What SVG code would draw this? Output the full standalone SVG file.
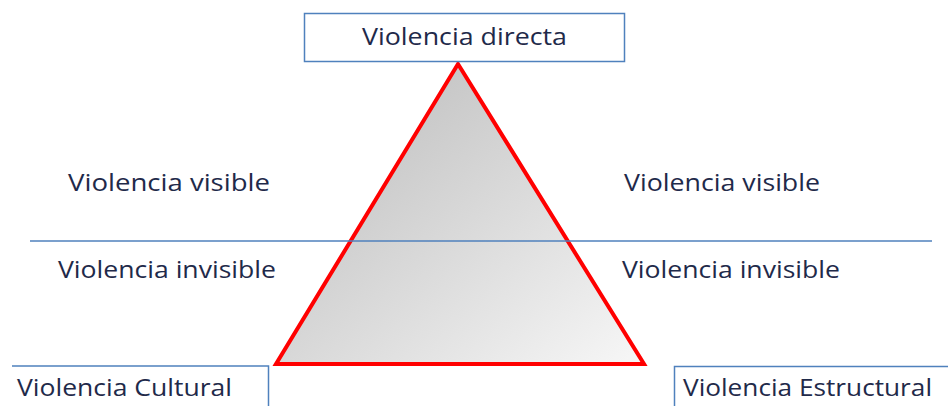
<svg xmlns="http://www.w3.org/2000/svg" width="948" height="406" viewBox="0 0 948 406">
<style>
.box{fill:#fff;stroke:#4f81bd;stroke-width:1.5}
.t{font-family:"Open Sans","Liberation Sans",sans-serif;font-size:24px;fill:#1f2a4a}
.sep{stroke:#4f81bd;stroke-width:1.5}
</style>
<defs>
<linearGradient id="g" x1="0" y1="0" x2="1" y2="1">
<stop offset="0" stop-color="#b8b8b8"/>
<stop offset="1" stop-color="#f7f7f7"/>
</linearGradient>
</defs>
<g id="triangle">
<polygon points="458,64 276,364 644,364" fill="url(#g)" stroke="#ff0000" stroke-width="4" stroke-linejoin="miter"/>
</g>
<g id="connectors">
<line class="sep" x1="30" y1="241" x2="932" y2="241"/>
</g>
<g id="directa">
<rect class="box" x="304.5" y="13.5" width="320" height="48"/>
<text class="t" x="362" y="45" textLength="205" lengthAdjust="spacingAndGlyphs">Violencia directa</text>
</g>
<g id="labels">
<text class="t" x="68" y="191" textLength="202" lengthAdjust="spacingAndGlyphs">Violencia visible</text>
<text class="t" x="624" y="191" textLength="196" lengthAdjust="spacingAndGlyphs">Violencia visible</text>
<text class="t" x="58" y="278" textLength="218" lengthAdjust="spacingAndGlyphs">Violencia invisible</text>
<text class="t" x="622" y="278" textLength="218" lengthAdjust="spacingAndGlyphs">Violencia invisible</text>
</g>
<g id="cultural">
<path class="box" d="M12,366 H268.5 V406"/>
<text class="t" x="17" y="396" textLength="215" lengthAdjust="spacingAndGlyphs">Violencia Cultural</text>
</g>
<g id="estructural">
<path class="box" d="M674.5,406 V366.5 H948"/>
<text class="t" x="683" y="396" textLength="249" lengthAdjust="spacingAndGlyphs">Violencia Estructural</text>
</g>
</svg>
